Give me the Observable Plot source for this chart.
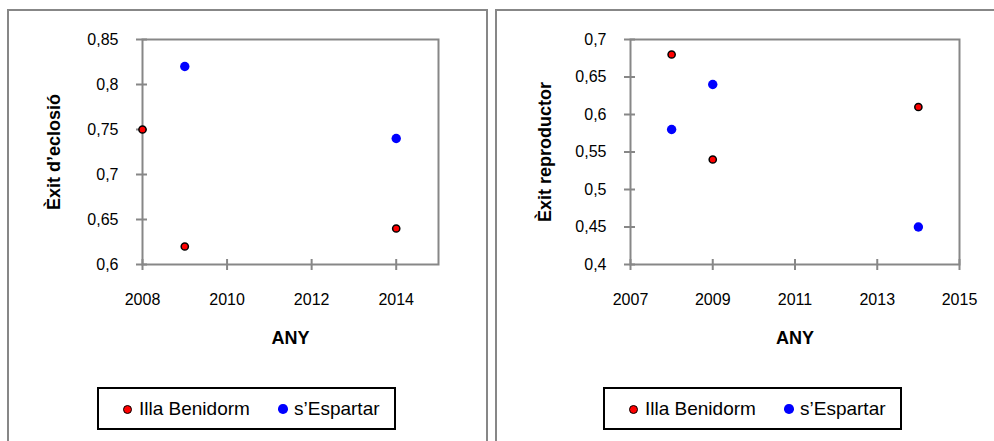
<!DOCTYPE html>
<html><head><meta charset="utf-8">
<script src="https://cdn.jsdelivr.net/npm/d3@7"></script>
<script src="https://cdn.jsdelivr.net/npm/@observablehq/plot@0.6"></script>
<style>
html,body{margin:0;padding:0;background:#fff;}
#wrap{position:relative;width:994px;height:441px;overflow:hidden;font-family:"Liberation Sans",Arial,sans-serif;}
.panel{position:absolute;border:2px solid #878787;box-sizing:border-box;background:#fff;}
.chart{position:absolute;top:0;}
.chart g[aria-label*="axis"]{font-size:16px;}
.legend{position:absolute;top:387px;width:299px;height:43px;border:2px solid #000;box-sizing:border-box;font-size:19px;line-height:19px;color:#000;background:#fff;}
.sw{position:absolute;border-radius:50%;box-sizing:border-box;}
.lt{position:absolute;top:10px;white-space:nowrap;}
</style></head>
<body><div id="wrap"></div>
<script>
// ---- data ----
const seriesNames = ["Illa Benidorm", "s\u2019Espartar"];
const seriesColors = ["#ff0000", "#0000ff"];
const xLabel = "ANY";

// Panel 1: Èxit d'eclosió
const yLabel1 = "\u00C8xit d\u2019eclosi\u00F3";
const benidormYears1 = [2008, 2009, 2014];
const benidormValues1 = [0.75, 0.62, 0.64];
const espartarYears1 = [2009, 2014];
const espartarValues1 = [0.82, 0.74];
const xDomain1 = [2008, 2015];
const xTicks1 = [2008, 2010, 2012, 2014];
const yDomain1 = [0.6, 0.85];
const yTicks1 = [0.6, 0.65, 0.7, 0.75, 0.8, 0.85];

// Panel 2: Èxit reproductor
const yLabel2 = "\u00C8xit reproductor";
const benidormYears2 = [2008, 2009, 2014];
const benidormValues2 = [0.68, 0.54, 0.61];
const espartarYears2 = [2008, 2009, 2014];
const espartarValues2 = [0.58, 0.64, 0.45];
const xDomain2 = [2007, 2015];
const xTicks2 = [2007, 2009, 2011, 2013, 2015];
const yDomain2 = [0.4, 0.7];
const yTicks2 = [0.4, 0.45, 0.5, 0.55, 0.6, 0.65, 0.7];

// ---- drawing ----
const gray = "#878787";
const wrap = document.getElementById("wrap");

function zip(xs, ys, s) { return xs.map((x, i) => ({x, y: ys[i], s})); }

function panel(cfg) {
  const p = document.createElement("div");
  p.className = "panel";
  Object.assign(p.style, {left: cfg.px + "px", top: "9px", width: cfg.pw + "px", height: "500px"});
  wrap.appendChild(p);

  const H = 370;
  const mT = 39, mB = H - 264;
  const plotH = H - mT - mB;
  const plotW = cfg.width - cfg.mL - cfg.mR;
  const ben = zip(cfg.benYears, cfg.benVals, seriesNames[0]);
  const esp = zip(cfg.espYears, cfg.espVals, seriesNames[1]);
  const fmt = d => String(d).replace(".", ",");
  const chart = Plot.plot({
    width: cfg.width, height: H,
    marginLeft: cfg.mL, marginRight: cfg.mR, marginTop: mT, marginBottom: mB,
    style: {background: "transparent", fontFamily: "Liberation Sans, Arial, sans-serif", fontSize: "16px", color: "#000", overflow: "visible"},
    x: {domain: cfg.xDomain, ticks: cfg.xTicks, tickFormat: "d", tickSize: 0, tickPadding: 29, label: null},
    y: {domain: cfg.yDomain, ticks: cfg.yTicks, tickFormat: fmt, tickSize: 0, tickPadding: 24, label: null},
    marks: [
      Plot.frame({stroke: gray, strokeWidth: 2}),
      Plot.tickX(cfg.xTicks, {x: d => d, stroke: gray, strokeWidth: 2, insetTop: plotH - 5, insetBottom: -6}),
      Plot.tickY(cfg.yTicks, {y: d => d, stroke: gray, strokeWidth: 2, insetRight: plotW - 5, insetLeft: -6}),
      Plot.dot(esp, {x: "x", y: "y", r: 4.7, fill: seriesColors[1], stroke: "none"}),
      Plot.dot(ben, {x: "x", y: "y", r: 3.6, fill: seriesColors[0], stroke: "#000", strokeWidth: 1.5}),
      Plot.text([xLabel], {frameAnchor: "bottom", dy: 79, fontWeight: "bold", fontSize: 18, fill: "#000"}),
      Plot.text([cfg.yLabel], {frameAnchor: "left", textAnchor: "middle", dx: cfg.yLabelDx, rotate: -90, fontWeight: "bold", fontSize: 18, fill: "#000"})
    ]
  });
  chart.classList.add("chart");
  chart.style.left = cfg.sx + "px";
  chart.style.position = "absolute";
  chart.style.maxWidth = "none";
  wrap.appendChild(chart);

  const lg = document.createElement("div");
  lg.className = "legend";
  lg.style.left = cfg.lx + "px";
  const items = [
    {c: seriesColors[0], name: seriesNames[0], cx: 28, tx: 40, r: 4.5, stroke: true},
    {c: seriesColors[1], name: seriesNames[1], cx: 184, tx: 195, r: 4.8, stroke: false}
  ];
  for (const it of items) {
    const s = document.createElement("span");
    s.className = "sw";
    Object.assign(s.style, {left: (it.cx - it.r) + "px", top: (20 - it.r) + "px", width: 2 * it.r + "px", height: 2 * it.r + "px", background: it.c, border: it.stroke ? "1.5px solid #000" : "none"});
    lg.appendChild(s);
    const t = document.createElement("span");
    t.className = "lt";
    t.style.left = it.tx + "px";
    t.textContent = it.name;
    lg.appendChild(t);
  }
  wrap.appendChild(lg);
}

panel({px: 7, pw: 481, sx: 0, width: 490, mL: 142, mR: 52,
  xDomain: xDomain1, xTicks: xTicks1, yDomain: yDomain1, yTicks: yTicks1,
  benYears: benidormYears1, benVals: benidormValues1, espYears: espartarYears1, espVals: espartarValues1,
  yLabel: yLabel1, yLabelDx: -88.5, lx: 97});

panel({px: 495, pw: 600, sx: 490, width: 504, mL: 140, mR: 35,
  xDomain: xDomain2, xTicks: xTicks2, yDomain: yDomain2, yTicks: yTicks2,
  benYears: benidormYears2, benVals: benidormValues2, espYears: espartarYears2, espVals: espartarValues2,
  yLabel: yLabel2, yLabelDx: -85, lx: 603});
</script>
</body></html>
